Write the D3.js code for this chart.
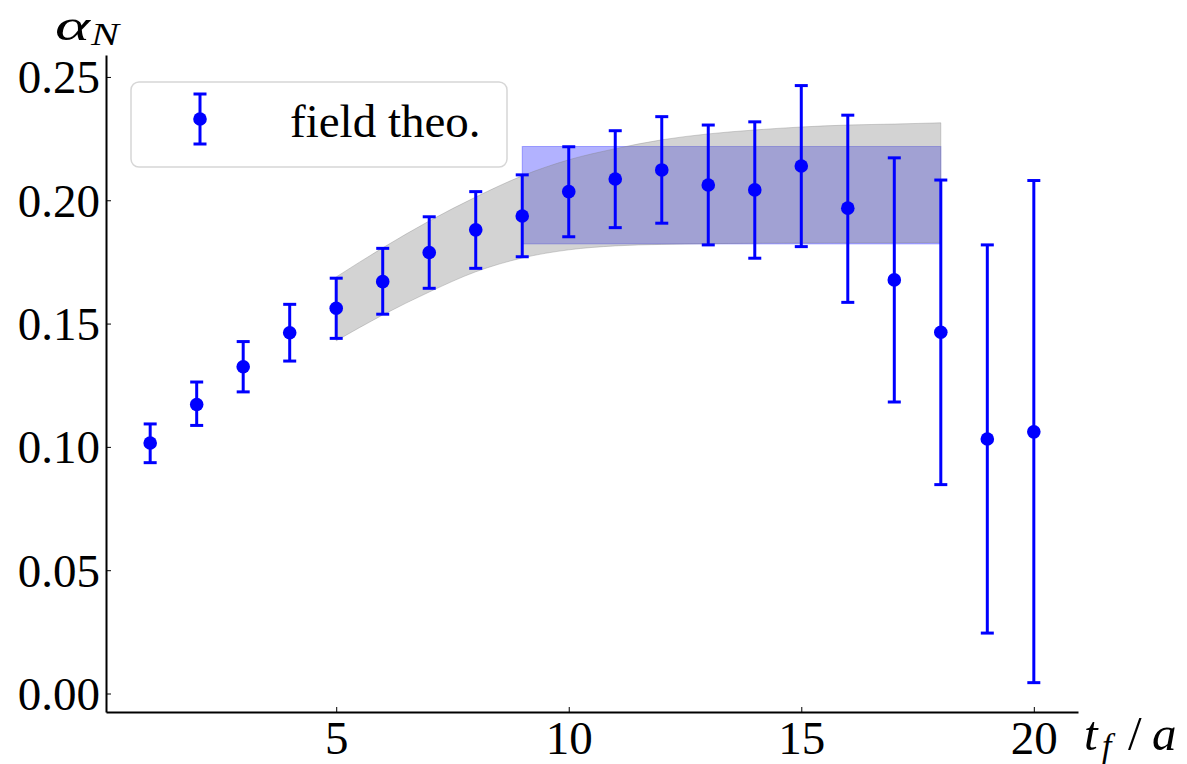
<!DOCTYPE html>
<html>
<head>
<meta charset="utf-8">
<script src="https://cdn.jsdelivr.net/npm/d3@7"></script>
<style>
  body { margin: 0; background: #fff; }
  svg text { font-family: "Liberation Serif", "DejaVu Serif", serif; fill: #000; }
</style>
</head>
<body>
<div id="grafico"></div>
<script>
// datos
const tiempos = [1, 2, 3, 4, 5, 6, 7, 8, 9, 10, 11, 12, 13, 14, 15, 16, 17, 18, 19, 20];
const valores = [0.1016, 0.1172, 0.1325, 0.1463, 0.1562, 0.1670, 0.1788, 0.1880, 0.1936, 0.2035,
                 0.2086, 0.2123, 0.2062, 0.2042, 0.2139, 0.1968, 0.1677, 0.1465, 0.1032, 0.1061];
const errArriba = [0.1093, 0.1263, 0.1427, 0.1578, 0.1684, 0.1805, 0.1933, 0.2035, 0.2103, 0.2217,
                   0.2282, 0.2339, 0.2305, 0.2318, 0.2465, 0.2345, 0.2172, 0.2082, 0.1819, 0.2080];
const errAbajo = [0.0936, 0.1087, 0.1223, 0.1348, 0.1440, 0.1538, 0.1643, 0.1724, 0.1771, 0.1852,
                  0.1889, 0.1907, 0.1819, 0.1765, 0.1812, 0.1586, 0.1182, 0.0847, 0.0245, 0.0044];

// banda del ajuste (gris)
const bandaT = [5, 6, 7, 8, 9, 10, 11, 12, 13, 14, 15, 16, 17, 18];
const bandaSup = [0.1689, 0.1807, 0.1916, 0.2013, 0.2099, 0.2164, 0.2209, 0.2245, 0.2269, 0.2285,
                  0.2297, 0.2305, 0.2309, 0.2314];
const bandaInf = [0.1430, 0.1535, 0.1628, 0.1710, 0.1766, 0.1799, 0.1815, 0.1821, 0.1824, 0.1826,
                  0.1827, 0.1828, 0.1828, 0.1829];

// plateau (azul)
const plateauT = [9, 18];
const plateauSup = 0.2218;
const plateauInf = 0.1823;

const xTicks = [5, 10, 15, 20];
const yTicks = [0.00, 0.05, 0.10, 0.15, 0.20, 0.25];

function texto(svg, x, y, size, italic, str) {
    return svg.append("text")
        .attr("x", x).attr("y", y)
        .attr("font-size", size)
        .attr("font-style", italic ? "italic" : "normal")
        .text(str);
}

function dibujar() {
    const width = 1187, height = 764;

    const svg = d3.select("#grafico")
        .append("svg")
        .attr("width", width)
        .attr("height", height);

    const x = d3.scaleLinear().domain([0.05, 20.95]).range([106, 1078]);
    const y = d3.scaleLinear().domain([-0.0075, 0.2589]).range([712, 55]);

    // plateau azul
    svg.append("rect")
        .attr("x", x(plateauT[0]))
        .attr("y", y(plateauSup))
        .attr("width", x(plateauT[1]) - x(plateauT[0]))
        .attr("height", y(plateauInf) - y(plateauSup))
        .attr("fill", "blue")
        .attr("fill-opacity", 0.3)
        .attr("stroke", "blue")
        .attr("stroke-opacity", 0.3)
        .attr("stroke-width", 1);

    // banda gris
    const area = d3.area()
        .x((d, i) => x(bandaT[i]))
        .y0((d, i) => y(bandaInf[i]))
        .y1((d, i) => y(bandaSup[i]))
        .curve(d3.curveMonotoneX);

    svg.append("path")
        .datum(bandaT)
        .attr("d", area)
        .attr("fill", "gray")
        .attr("fill-opacity", 0.35)
        .attr("stroke", "gray")
        .attr("stroke-opacity", 0.35)
        .attr("stroke-width", 1);

    // ejes
    const ejeX = svg.append("g")
        .attr("transform", `translate(0,${712})`)
        .call(d3.axisBottom(x).tickValues(xTicks).tickSizeInner(-5).tickSizeOuter(0).tickPadding(9));
    const ejeY = svg.append("g")
        .attr("transform", `translate(${106},0)`)
        .call(d3.axisLeft(y).tickValues(yTicks).tickFormat(d3.format(".2f"))
            .tickSizeInner(-5).tickSizeOuter(0).tickPadding(6));

    [ejeX, ejeY].forEach(eje => {
        eje.select(".domain").attr("stroke", "#000").attr("stroke-width", 2);
        eje.selectAll(".tick line").attr("stroke", "#000").attr("stroke-width", 1);
        eje.selectAll(".tick text")
            .attr("font-family", "Liberation Serif")
            .attr("font-size", 47)
            .attr("fill", "#000");
    });
    ejeX.selectAll(".tick text").attr("dy", "0.71em");
    ejeY.selectAll(".tick text").attr("dy", "0.34em");

    // puntos con barras de error
    const g = svg.append("g");
    const cap = 6.5;
    tiempos.forEach((t, i) => {
        const cx = x(t);
        g.append("line")
            .attr("x1", cx).attr("x2", cx)
            .attr("y1", y(errArriba[i])).attr("y2", y(errAbajo[i]))
            .attr("stroke", "blue").attr("stroke-width", 3);
        [errArriba[i], errAbajo[i]].forEach(v => {
            g.append("line")
                .attr("x1", cx - cap).attr("x2", cx + cap)
                .attr("y1", y(v)).attr("y2", y(v))
                .attr("stroke", "blue").attr("stroke-width", 3);
        });
        g.append("circle")
            .attr("cx", cx).attr("cy", y(valores[i]))
            .attr("r", 6.8)
            .attr("fill", "blue");
    });

    // leyenda
    const ley = svg.append("g");
    ley.append("rect")
        .attr("x", 131).attr("y", 82)
        .attr("width", 376).attr("height", 85)
        .attr("rx", 8).attr("ry", 8)
        .attr("fill", "#fff").attr("fill-opacity", 0.8)
        .attr("stroke", "#d6d6d6").attr("stroke-width", 1.5);
    ley.append("line")
        .attr("x1", 200).attr("x2", 200).attr("y1", 94).attr("y2", 144)
        .attr("stroke", "blue").attr("stroke-width", 3);
    [94, 144].forEach(v => {
        ley.append("line")
            .attr("x1", 200 - cap).attr("x2", 200 + cap)
            .attr("y1", v).attr("y2", v)
            .attr("stroke", "blue").attr("stroke-width", 3);
    });
    ley.append("circle").attr("cx", 200).attr("cy", 119).attr("r", 6.8).attr("fill", "blue");
    ley.append("text")
        .attr("x", 290).attr("y", 137)
        .attr("font-size", 47)
        .text("field theo.");

    // etiquetas de los ejes
    texto(svg, 55, 40, 45, true, "α")
        .attr("textLength", 35).attr("lengthAdjust", "spacingAndGlyphs");
    texto(svg, 91, 45, 31, true, "N")
        .attr("textLength", 28).attr("lengthAdjust", "spacingAndGlyphs");

    texto(svg, 1084, 750, 49, true, "t");
    texto(svg, 1102, 757, 34, true, "f");
    texto(svg, 1128, 750, 49, false, "/");
    texto(svg, 1152, 750, 49, true, "a");
}

dibujar();
</script>
</body>
</html>
